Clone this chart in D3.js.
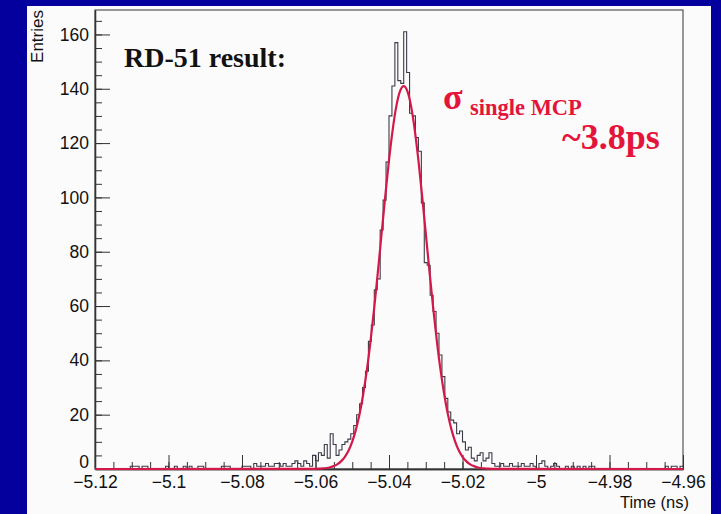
<!DOCTYPE html>
<html><head><meta charset="utf-8">
<script src="https://cdn.jsdelivr.net/npm/d3@7"></script>
<style>html,body{margin:0;padding:0;background:#04009e;} svg{display:block}</style>
</head><body>
<svg id="chart" width="721" height="514"></svg>
<script>
// ---- data ----
const binLow = -5.12;
const binWidth = 0.0008;
const counts = [
  0,0,0,0,0,0,0,0,0,0,
  0,0,1,1,1,0,1,1,0,0,
  0,0,0,0,1,0,0,1,0,0,
  1,0,1,0,0,1,1,0,0,0,
  0,0,0,1,1,1,0,0,0,0,
  1,1,1,0,2,1,1,1,2,1,
  1,2,2,1,2,1,1,2,3,2,
  1,3,2,1,5,3,6,5,9,4,
  13,9,5,7,9,10,11,13,16,20,
  24,30,36,47,53,66,70,88,99,113,
  130,141,157,143,142,161,146,131,130,122,
  117,98,76,75,64,58,50,42,34,26,
  21,18,17,13,14,10,7,8,4,3,
  5,6,3,4,6,2,1,1,2,1,
  1,2,1,1,1,2,1,1,2,1,
  0,2,3,1,0,1,2,1,0,0,
  1,0,1,0,1,0,1,0,1,1,
  0,0,0,0,0,0,0,0,0,0,
  0,0,0,0,0,0,0,0,0,0,
  0,0,0,0,1,0,1,1,0,1
];
const fitX = [-5.12,
  -5.060,-5.059,-5.058,-5.057,-5.056,-5.055,-5.054,-5.053,-5.052,-5.051,
  -5.050,-5.049,-5.048,-5.047,-5.046,-5.045,-5.044,-5.043,-5.042,-5.041,
  -5.040,-5.039,-5.038,-5.037,-5.036,-5.035,-5.034,-5.033,-5.032,-5.031,
  -5.030,-5.029,-5.028,-5.027,-5.026,-5.025,-5.024,-5.023,-5.022,-5.021,
  -5.020,-5.019,-5.018,-5.017,-5.016,-5.015,-5.014,-5.013,-5.012,
  -4.96];
const fitY = [0,
  0.06,0.11,0.21,0.37,0.65,1.1,1.8,2.9,4.5,6.8,
  10.1,14.5,20.3,27.7,36.7,47.4,59.6,72.9,86.9,100.7,
  113.7,124.9,133.6,139.1,141,139.1,133.6,124.9,113.7,100.7,
  86.9,72.9,59.6,47.4,36.7,27.7,20.3,14.5,10.1,6.8,
  4.5,2.9,1.8,1.1,0.65,0.37,0.21,0.11,0.06,
  0];
const xTickValues = [-5.12,-5.1,-5.08,-5.06,-5.04,-5.02,-5,-4.98,-4.96];
const xTickLabels = ["\u22125.12","\u22125.1","\u22125.08","\u22125.06","\u22125.04","\u22125.02","\u22125","\u22124.98","\u22124.96"];
const yTickValues = [0,20,40,60,80,100,120,140,160];
const yTickLabels = ["0","20","40","60","80","100","120","140","160"];
const xTitle = "Time (ns)";
const yTitle = "Entries";
const noteText = "RD-51 result:";

// ---- layout ----
const W = 721, H = 514;
const L = 95, R = 683, T = 10, B = 469;
const svg = d3.select("#chart");

svg.append("rect").attr("x",0).attr("y",0).attr("width",W).attr("height",H).attr("fill","#04009e");
svg.append("rect").attr("x",27).attr("y",6).attr("width",684).attr("height",H-6).attr("fill","#fcfbfb");

const x = d3.scaleLinear().domain([-5.12,-4.96]).range([L,R]);
const y = d3.scaleLinear().domain([0,169]).range([B,T]);

// frame
svg.append("rect").attr("x",L).attr("y",T).attr("width",R-L).attr("height",B-T)
  .attr("fill","none").attr("stroke","#555").attr("stroke-width",1.2);

// histogram
const pts = counts.map((c,i)=>[binLow+i*binWidth, c]);
pts.push([binLow+counts.length*binWidth, counts[counts.length-1]]);
const histLine = d3.line().x(d=>x(d[0])).y(d=>y(d[1])).curve(d3.curveStepAfter);
svg.append("path").attr("d",histLine(pts)).attr("fill","none")
  .attr("stroke","#3b3b48").attr("stroke-width",1.1);

// axes
const fontSans = "'Liberation Sans', Arial, Helvetica, sans-serif";
const xMinor = d3.range(0,33).map(k=>-5.12+k*0.005);
const yMinor = d3.range(0,34).map(k=>k*5);

svg.append("g").attr("transform",`translate(0,${B})`)
  .call(d3.axisBottom(x).tickValues(xMinor).tickSize(-7).tickSizeOuter(0).tickFormat(""));
const gx = svg.append("g").attr("transform",`translate(0,${B})`)
  .call(d3.axisBottom(x).tickValues(xTickValues).tickSize(-14).tickSizeOuter(0).tickPadding(6.5)
    .tickFormat((d,i)=>xTickLabels[i]));
svg.append("g").attr("transform",`translate(${L},0)`)
  .call(d3.axisLeft(y).tickValues(yMinor).tickSize(-7).tickSizeOuter(0).tickFormat(""));
const gy = svg.append("g").attr("transform",`translate(${L},0)`)
  .call(d3.axisLeft(y).tickValues(yTickValues).tickSize(-15).tickSizeOuter(0).tickPadding(6)
    .tickFormat((d,i)=>yTickLabels[i]));

svg.selectAll(".domain").attr("stroke","#333").attr("stroke-width",1.3);
svg.selectAll(".tick line").attr("stroke","#333").attr("stroke-width",1);
gx.selectAll("text").attr("font-family",fontSans).attr("font-size",17.5).attr("fill","#111");
gy.selectAll("text").attr("font-family",fontSans).attr("font-size",17.5).attr("fill","#111");
// the "0" label sits just above the first x label
gy.selectAll(".tick").filter(d=>d===0).select("text").attr("dy","-0.08em");

// fit
const fitLine = d3.line().x((d,i)=>x(fitX[i])).y((d,i)=>y(fitY[i])).curve(d3.curveMonotoneX);
svg.append("path").attr("d",fitLine(fitY)).attr("fill","none")
  .attr("stroke","#d3184a").attr("stroke-width",2.2);

// titles
svg.append("text").attr("transform",`translate(43,${T}) rotate(-90)`)
  .attr("text-anchor","end").attr("font-family",fontSans).attr("font-size",17).attr("fill","#111")
  .text(yTitle);
svg.append("text").attr("x",689).attr("y",507.5).attr("text-anchor","end")
  .attr("font-family",fontSans).attr("font-size",16.5).attr("fill","#111").text(xTitle);

// annotations
const fontSerif = "'Liberation Serif', 'Times New Roman', serif";
svg.append("text").attr("x",124).attr("y",67).attr("font-family",fontSerif)
  .attr("font-weight","bold").attr("font-size",28).attr("fill","#111").text(noteText);

const red = "#e3153a";
svg.append("text").attr("x",443).attr("y",109).attr("font-family",fontSerif)
  .attr("font-weight","bold").attr("font-size",36).attr("fill",red).text("\u03c3");
svg.append("text").attr("x",470).attr("y",115).attr("font-family",fontSerif)
  .attr("font-weight","bold").attr("font-size",22.5).attr("fill",red).text("single MCP");
svg.append("text").attr("x",562).attr("y",149).attr("font-family",fontSerif)
  .attr("font-weight","bold").attr("font-size",36).attr("fill",red).text("~3.8ps");
</script>
</body></html>
